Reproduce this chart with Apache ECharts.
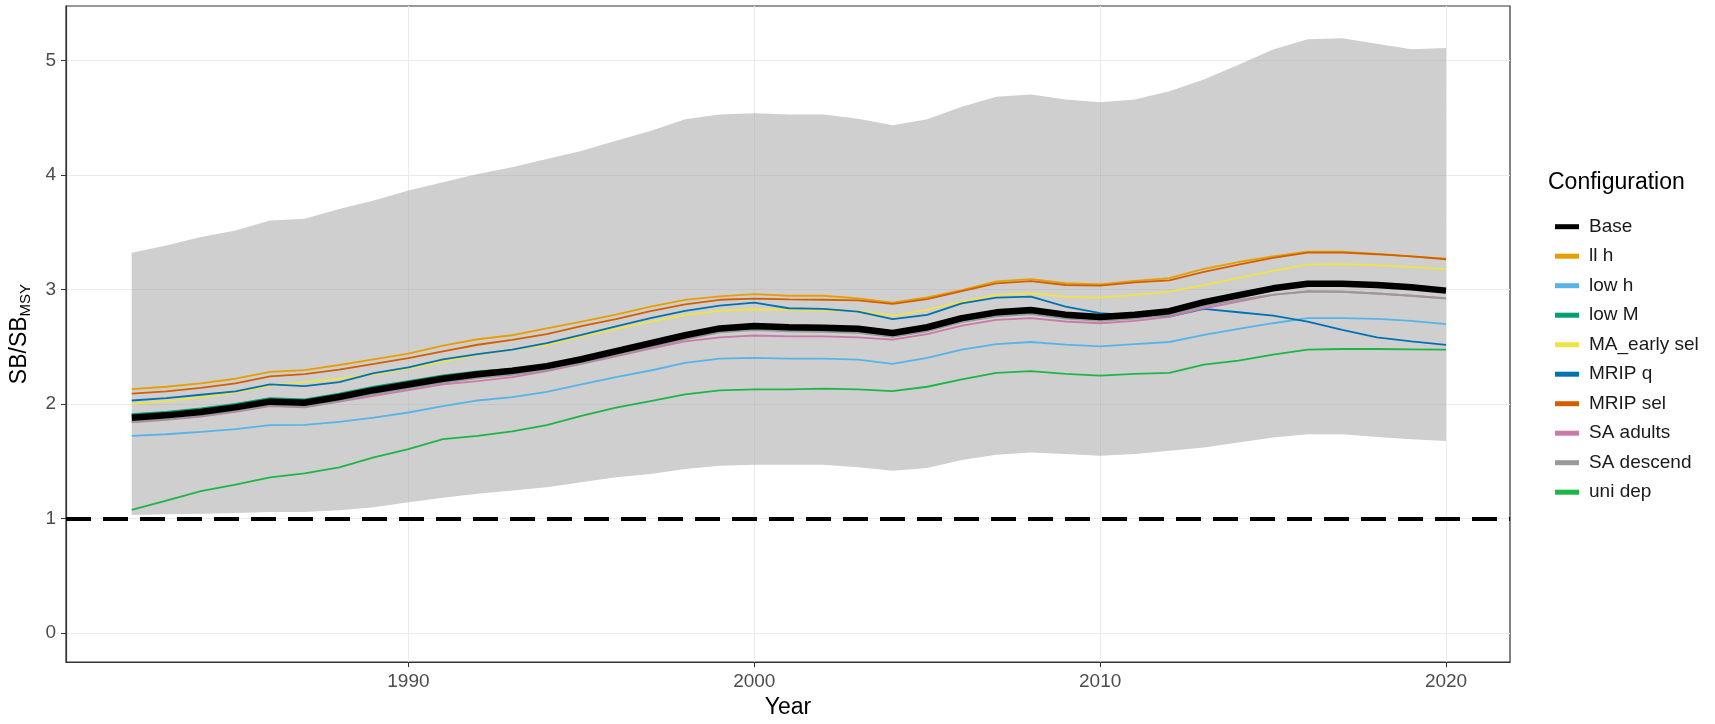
<!DOCTYPE html>
<html><head><meta charset="utf-8">
<script src="https://cdn.jsdelivr.net/npm/echarts@6/dist/echarts.min.js"></script>
<style>html,body{margin:0;padding:0;background:#fff}#c{width:1715px;height:724px}</style>
</head><body><div id="c"></div>
<script>
const years = [1982,1983,1984,1985,1986,1987,1988,1989,1990,1991,1992,1993,1994,1995,1996,1997,1998,1999,2000,2001,2002,2003,2004,2005,2006,2007,2008,2009,2010,2011,2012,2013,2014,2015,2016,2017,2018,2019,2020];

const seriesNames = ['Base','ll h','low h','low M','MA_early sel','MRIP q','MRIP sel','SA adults','SA descend','uni dep'];
const seriesColors = ['#000000','#E69F00','#56B4E9','#009E73','#F0E442','#0072B2','#D55E00','#CC79A7','#999999','#1DB546'];

const base       = [1.88,1.90,1.93,1.97,2.02,2.01,2.06,2.12,2.17,2.22,2.26,2.29,2.33,2.39,2.46,2.53,2.60,2.66,2.68,2.67,2.665,2.656,2.62,2.67,2.75,2.80,2.82,2.78,2.76,2.78,2.81,2.89,2.95,3.01,3.05,3.05,3.04,3.02,2.99];
const llH        = [2.13,2.15,2.18,2.22,2.28,2.295,2.34,2.39,2.44,2.51,2.565,2.60,2.66,2.72,2.78,2.85,2.91,2.94,2.96,2.945,2.945,2.923,2.885,2.93,2.995,3.07,3.09,3.055,3.045,3.075,3.10,3.18,3.24,3.29,3.33,3.33,3.31,3.29,3.27];
const lowH       = [1.72,1.735,1.755,1.78,1.815,1.817,1.843,1.88,1.925,1.98,2.03,2.06,2.106,2.17,2.234,2.292,2.358,2.396,2.402,2.396,2.396,2.387,2.349,2.402,2.474,2.523,2.541,2.518,2.503,2.523,2.541,2.604,2.656,2.705,2.749,2.749,2.743,2.726,2.697];
const lowM       = [1.91,1.93,1.96,2.00,2.05,2.04,2.09,2.15,2.20,2.25,2.285,2.305,2.34,2.395,2.46,2.525,2.59,2.64,2.65,2.64,2.635,2.626,2.59,2.64,2.72,2.77,2.79,2.755,2.735,2.755,2.80,2.88,2.94,3.0,3.04,3.04,3.03,3.01,2.98];
const maEarlySel = [2.00,2.025,2.06,2.10,2.16,2.19,2.22,2.26,2.31,2.37,2.43,2.475,2.517,2.59,2.656,2.72,2.778,2.813,2.827,2.822,2.818,2.813,2.772,2.822,2.894,2.952,2.967,2.938,2.929,2.952,2.981,3.039,3.102,3.163,3.218,3.221,3.212,3.198,3.177];
const mripQ      = [2.03,2.05,2.08,2.11,2.17,2.155,2.19,2.27,2.32,2.39,2.435,2.474,2.532,2.604,2.677,2.749,2.813,2.859,2.885,2.836,2.83,2.807,2.74,2.778,2.879,2.929,2.938,2.851,2.793,2.772,2.763,2.83,2.801,2.772,2.72,2.647,2.581,2.546,2.515];
const mripSel    = [2.09,2.11,2.14,2.18,2.24,2.26,2.30,2.35,2.40,2.46,2.517,2.56,2.61,2.68,2.74,2.81,2.87,2.91,2.92,2.914,2.91,2.905,2.874,2.916,2.986,3.053,3.073,3.039,3.033,3.062,3.08,3.154,3.218,3.276,3.322,3.322,3.308,3.29,3.264];
const saAdults   = [1.84,1.86,1.89,1.93,1.98,1.97,2.02,2.07,2.12,2.17,2.20,2.234,2.286,2.349,2.416,2.483,2.547,2.581,2.598,2.59,2.59,2.581,2.561,2.61,2.685,2.735,2.749,2.72,2.705,2.726,2.76,2.836,2.894,2.952,2.985,2.98,2.965,2.945,2.925];
const saDescend  = [1.845,1.865,1.895,1.935,1.985,1.975,2.025,2.085,2.135,2.185,2.225,2.255,2.295,2.355,2.425,2.495,2.565,2.625,2.645,2.635,2.63,2.621,2.585,2.635,2.715,2.765,2.785,2.745,2.725,2.745,2.775,2.855,2.91,2.955,2.98,2.98,2.965,2.945,2.92];
const uniDep     = [1.075,1.156,1.237,1.295,1.359,1.393,1.446,1.532,1.605,1.692,1.72,1.76,1.814,1.895,1.967,2.025,2.083,2.118,2.127,2.127,2.133,2.127,2.112,2.15,2.214,2.272,2.286,2.263,2.248,2.263,2.272,2.344,2.379,2.431,2.474,2.48,2.48,2.477,2.474];

const bandUpper  = [3.32,3.385,3.459,3.515,3.603,3.617,3.704,3.777,3.864,3.936,4.009,4.067,4.139,4.211,4.30,4.385,4.487,4.53,4.539,4.53,4.53,4.492,4.434,4.487,4.597,4.683,4.703,4.661,4.637,4.661,4.732,4.835,4.964,5.096,5.187,5.196,5.147,5.10,5.109];
const bandLower  = [1.03,1.035,1.04,1.047,1.055,1.055,1.07,1.098,1.141,1.179,1.214,1.243,1.272,1.315,1.359,1.388,1.431,1.46,1.469,1.469,1.469,1.446,1.417,1.44,1.51,1.556,1.576,1.562,1.547,1.562,1.591,1.62,1.663,1.707,1.735,1.735,1.712,1.692,1.677];

const refLevel = 1;
const xTicks = [1990,2000,2010,2020];
const yTicks = [0,1,2,3,4,5];

const allValues = [base,llH,lowH,lowM,maEarlySel,mripQ,mripSel,saAdults,saDescend,uniDep];

const FONT = '"Liberation Sans", Arial, sans-serif';
const chart = echarts.init(document.getElementById('c'));

const lineSeries = seriesNames.map((name, k) => {
  const s = {
    name: name,
    type: 'line',
    data: years.map((y, i) => [y, allValues[k][i]]),
    symbol: 'none',
    smooth: false,
    color: seriesColors[k],
    z: k === 0 ? 4 : 3,
    lineStyle: { color: seriesColors[k], width: k === 0 ? 6.5 : 1.8 },
    emphasis: { disabled: true },
    animation: false
  };
  if (k === 0) {
    s.markLine = {
      silent: true,
      symbol: ['none', 'none'],
      label: { show: false },
      lineStyle: { color: '#000', width: 4, type: [25, 12] },
      data: [{ yAxis: refLevel }],
      animation: false
    };
  }
  return s;
});

const axisLineStyle = { show: true, onZero: false, lineStyle: { color: '#333333', width: 1.2 } };

const option = {
  animation: false,
  backgroundColor: '#ffffff',
  title: {
    text: 'Configuration',
    left: 1543, top: 166,
    textStyle: { fontSize: 23, fontWeight: 'normal', color: '#000', fontFamily: FONT }
  },
  legend: {
    orient: 'vertical',
    left: 1550, top: 210.7,
    itemWidth: 24, itemHeight: 5, itemGap: 7.5,
    icon: 'rect',
    data: seriesNames,
    selectedMode: false,
    textStyle: { fontSize: 19, lineHeight: 22, color: '#1a1a1a', fontFamily: FONT, padding: [0, 0, 0, 5] }
  },
  grid: {
    left: 66, right: 205, top: 6, bottom: 58,
    show: true, borderColor: '#333333', borderWidth: 1.2, backgroundColor: 'transparent'
  },
  xAxis: {
    type: 'value',
    min: 1980.1, max: 2021.85,
    name: 'Year',
    nameLocation: 'middle',
    nameGap: 33,
    nameTextStyle: { fontSize: 23, color: '#000', fontFamily: FONT },
    axisLine: axisLineStyle,
    axisTick: { show: true, length: 5, lineStyle: { color: '#333' }, customValues: xTicks },
    axisLabel: { customValues: xTicks, fontSize: 19, color: '#4d4d4d', margin: 10, fontFamily: FONT,
                 formatter: function (v) { return String(v); } },
    splitLine: { show: true, lineStyle: { color: '#ebebeb', width: 1.1 } }
  },
  yAxis: {
    type: 'value',
    min: -0.256, max: 5.477,
    name: 'SB/SB{sub|MSY}',
    nameLocation: 'middle',
    nameGap: 33,
    nameRotate: 90,
    nameTextStyle: {
      fontSize: 23, color: '#000', fontFamily: FONT,
      rich: { sub: { fontSize: 15, color: '#000', fontFamily: FONT, padding: [12, 0, 0, 0] } }
    },
    axisLine: axisLineStyle,
    axisTick: { show: true, length: 5, lineStyle: { color: '#333' }, customValues: yTicks },
    axisLabel: { customValues: yTicks, fontSize: 19, color: '#4d4d4d', margin: 10, fontFamily: FONT,
                 formatter: function (v) { return String(v); } },
    splitLine: { show: true, lineStyle: { color: '#ebebeb', width: 1.1 } }
  },
  series: [
    {
      name: 'band',
      type: 'custom',
      data: years.map((y, i) => [y, bandLower[i], bandUpper[i]]),
      encode: { x: 0, y: [1, 2] },
      silent: true,
      animation: false,
      z: 1,
      renderItem: function (params, api) {
        if (params.dataIndex !== 0) return null;
        const pts = [];
        for (let i = 0; i < years.length; i++) pts.push(api.coord([years[i], bandUpper[i]]));
        for (let i = years.length - 1; i >= 0; i--) pts.push(api.coord([years[i], bandLower[i]]));
        return { type: 'polygon', shape: { points: pts }, style: { fill: 'rgba(160,160,160,0.5)' } };
      }
    }
  ].concat(lineSeries)
};
chart.setOption(option);
</script>
</body></html>
